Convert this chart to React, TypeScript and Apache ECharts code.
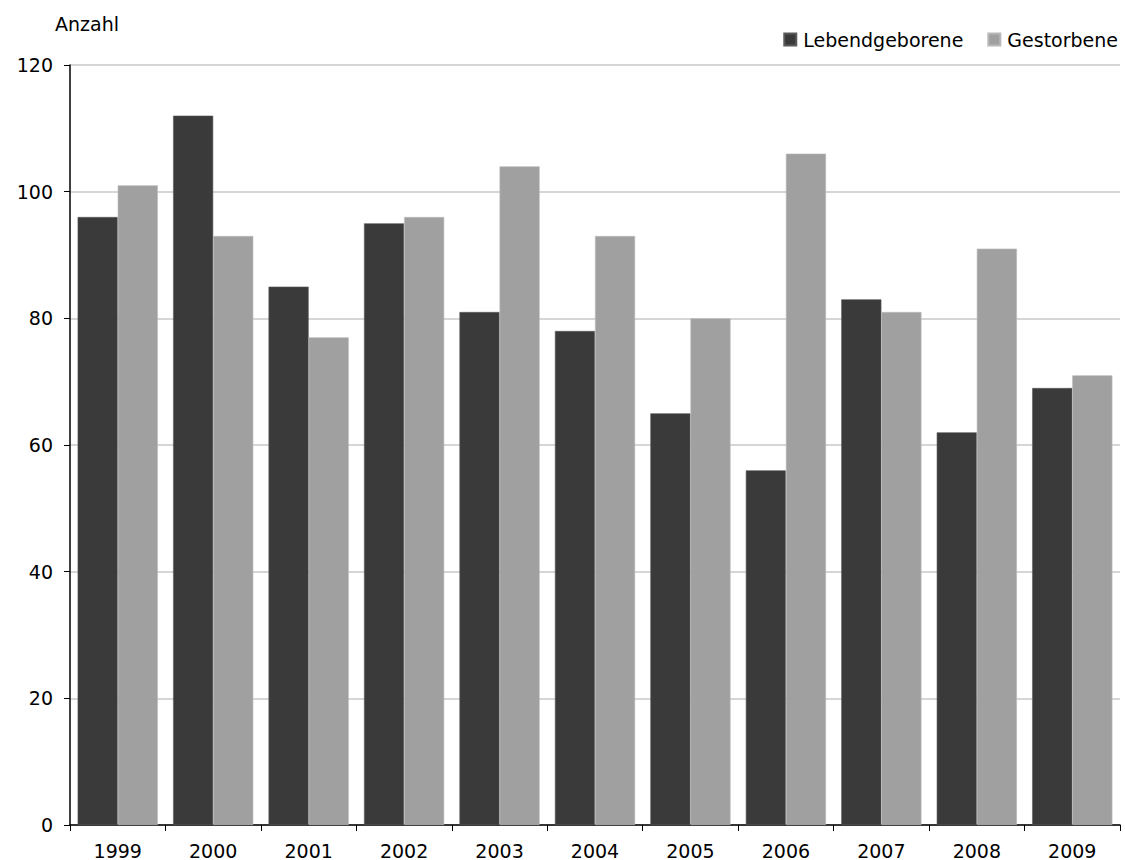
import React, { useEffect, useRef } from "react";
import * as echarts from "echarts";

const years = ["1999", "2000", "2001", "2002", "2003", "2004", "2005", "2006", "2007", "2008", "2009"];
const lebendgeborene = [96, 112, 85, 95, 81, 78, 65, 56, 83, 62, 69];
const gestorbene = [101, 93, 77, 96, 104, 93, 80, 106, 81, 91, 71];
const yTicks = { min: 0, max: 120, interval: 20 };

const FONT = "DejaVu Sans";
const SIZE = 19;

export default function App() {
  const ref = useRef<HTMLDivElement>(null);

  useEffect(() => {
    if (!ref.current) return;
    const chart = echarts.init(ref.current, null, { renderer: "svg" });
    chart.setOption({
      animation: false,
      backgroundColor: "#ffffff",
      textStyle: { fontFamily: FONT, color: "#000" },
      grid: { left: 70, right: 5, top: 65, bottom: 35, containLabel: false },
      legend: {
        right: 2,
        top: 25,
        itemWidth: 12,
        itemHeight: 12,
        itemGap: 24,
        icon: "rect",
        textStyle: { fontFamily: FONT, fontSize: SIZE, color: "#000", padding: [0, 0, 0, 2] },
        data: ["Lebendgeborene", "Gestorbene"],
      },
      graphic: [
        {
          type: "text",
          left: 55,
          top: 14,
          style: { text: "Anzahl", font: `${SIZE}px ${FONT}`, fill: "#000" },
        },
      ],
      xAxis: {
        type: "category",
        data: years,
        axisLine: { lineStyle: { color: "#000", width: 1.5 } },
        axisTick: { show: true, length: 6, lineStyle: { color: "#000" }, alignWithLabel: false },
        axisLabel: { fontFamily: FONT, fontSize: SIZE, color: "#000", margin: 16 },
      },
      yAxis: {
        type: "value",
        min: yTicks.min,
        max: yTicks.max,
        interval: yTicks.interval,
        axisLine: { show: true, lineStyle: { color: "#000", width: 1.5 } },
        axisTick: { show: true, length: 6, lineStyle: { color: "#000" } },
        axisLabel: { fontFamily: FONT, fontSize: SIZE, color: "#000", margin: 17 },
        splitLine: { show: true, lineStyle: { color: "#c8c8c8", width: 1.5 } },
      },
      series: [
        {
          name: "Lebendgeborene",
          type: "bar",
          data: lebendgeborene,
          barGap: "0%",
          barCategoryGap: "16%",
          itemStyle: { color: "#3a3a3a", borderColor: "#5a5a5a", borderWidth: 0.6 },
        },
        {
          name: "Gestorbene",
          type: "bar",
          data: gestorbene,
          barGap: "0%",
          barCategoryGap: "16%",
          itemStyle: { color: "#a0a0a0", borderColor: "#b8b8b8", borderWidth: 0.6 },
        },
      ],
    });
    return () => chart.dispose();
  }, []);

  return <div ref={ref} style={{ width: 1125, height: 860, position: "absolute", left: 0, top: 0 }} />;
}
